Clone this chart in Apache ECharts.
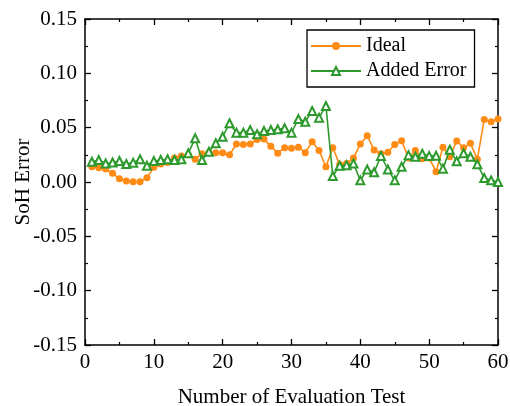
<!DOCTYPE html>
<html>
<head>
<meta charset="utf-8">
<title>SoH Error</title>
<script src="https://cdn.jsdelivr.net/npm/echarts@6/dist/echarts.min.js"></script>
<style>
  html, body { margin: 0; padding: 0; background: #fff; }
  #chart { width: 510px; height: 406px; }
</style>
</head>
<body>
<div id="chart"></div>
<script>
// evaluation test number (x)
const testNo = [1, 2, 3, 4, 5, 6, 7, 8, 9, 10, 11, 12, 13, 14, 15, 16, 17, 18, 19, 20,
  21, 22, 23, 24, 25, 26, 27, 28, 29, 30, 31, 32, 33, 34, 35, 36, 37, 38, 39, 40,
  41, 42, 43, 44, 45, 46, 47, 48, 49, 50, 51, 52, 53, 54, 55, 56, 57, 58, 59, 60];

// SoH error, ideal case
const ideal = [0.014, 0.013, 0.012, 0.008, 0.003, 0.001, 0.0003, 0.0003, 0.004, 0.0135,
  0.0165, 0.018, 0.022, 0.024, 0.025, 0.021, 0.026, 0.027, 0.027, 0.027,
  0.025, 0.035, 0.0345, 0.035, 0.039, 0.0395, 0.033, 0.0265, 0.0315, 0.031,
  0.032, 0.027, 0.037, 0.029, 0.014, 0.0315, 0.016, 0.017, 0.022, 0.035,
  0.0426, 0.0294, 0.026, 0.0273, 0.0345, 0.038, 0.022, 0.029, 0.0215, 0.022,
  0.0095, 0.032, 0.0233, 0.0377, 0.0316, 0.0356, 0.021, 0.0575, 0.0555, 0.058];

// SoH error with added error
const addedError = [0.0187, 0.0202, 0.017, 0.018, 0.0193, 0.0166, 0.0178, 0.021, 0.015, 0.0193,
  0.0202, 0.021, 0.0202, 0.0209, 0.0264, 0.0402, 0.0202, 0.0279, 0.0356, 0.0417,
  0.054, 0.0454, 0.0454, 0.0479, 0.0439, 0.0469, 0.0479, 0.0485, 0.0494, 0.0454,
  0.058, 0.0555, 0.0653, 0.0592, 0.07, 0.0055, 0.015, 0.0155, 0.017, 0.0015,
  0.0115, 0.009, 0.024, 0.0115, 0.0015, 0.014, 0.0247, 0.0233, 0.026, 0.024,
  0.0242, 0.0123, 0.0297, 0.019, 0.0264, 0.0233, 0.0163, 0.0037, 0.0015, 0.0];

const seriesNames = ['Ideal', 'Added Error'];

const FONT = "'Liberation Serif', 'Times New Roman', serif";
const ORANGE = '#FF8A14';
const GREEN = '#2E9A2E';

const chart = echarts.init(document.getElementById('chart'));

// common look of the frame axes (ticks inside on all four sides)
const frameLine = { show: true, onZero: false, lineStyle: { color: '#000', width: 1.5 } };
const frameTick = { show: true, inside: true, length: 6, lineStyle: { color: '#000', width: 1.3 } };
const frameMinor = { show: true, splitNumber: 2, length: 3, lineStyle: { color: '#000', width: 1.2 } };

const option = {
  backgroundColor: '#fff',
  animation: false,
  grid: { left: 85, right: 12, top: 19, bottom: 61, outerBoundsMode: 'none' },
  legend: {
    orient: 'vertical',
    left: 307,
    top: 30,
    padding: [6, 8, 6, 3],
    itemGap: 5,
    itemWidth: 50,
    itemHeight: 10,
    borderColor: '#000',
    borderWidth: 1.3,
    borderRadius: 0,
    textStyle: { fontFamily: FONT, fontSize: 20, color: '#000' },
    data: seriesNames
  },
  xAxis: [
    {
      type: 'value',
      min: 0, max: 60, interval: 10,
      position: 'bottom',
      name: 'Number of Evaluation Test',
      nameLocation: 'middle',
      nameGap: 42,
      nameMoveOverlap: false,
      nameTextStyle: { fontFamily: FONT, fontSize: 21, color: '#000' },
      axisLine: frameLine,
      axisTick: frameTick,
      minorTick: frameMinor,
      axisLabel: { fontFamily: FONT, fontSize: 21, color: '#000', margin: 7 },
      splitLine: { show: false }
    },
    {
      type: 'value',
      min: 0, max: 60, interval: 10,
      position: 'top',
      axisLine: frameLine,
      axisTick: frameTick,
      minorTick: frameMinor,
      axisLabel: { show: false },
      splitLine: { show: false }
    }
  ],
  yAxis: [
    {
      type: 'value',
      min: -0.15, max: 0.15, interval: 0.05,
      position: 'left',
      name: 'SoH Error',
      nameLocation: 'middle',
      nameGap: 51,
      nameMoveOverlap: false,
      nameTextStyle: { fontFamily: FONT, fontSize: 21, color: '#000' },
      axisLine: frameLine,
      axisTick: frameTick,
      minorTick: frameMinor,
      axisLabel: {
        fontFamily: FONT, fontSize: 21, color: '#000', margin: 8,
        formatter: v => (Math.abs(v) < 1e-9 ? 0 : v).toFixed(2)
      },
      splitLine: { show: false }
    },
    {
      type: 'value',
      min: -0.15, max: 0.15, interval: 0.05,
      position: 'right',
      axisLine: frameLine,
      axisTick: frameTick,
      minorTick: frameMinor,
      axisLabel: { show: false },
      splitLine: { show: false }
    }
  ],
  series: [
    {
      name: seriesNames[0],
      type: 'line',
      data: ideal.map((v, i) => [testNo[i], v]),
      symbol: 'circle',
      symbolSize: 7,
      itemStyle: { color: ORANGE },
      lineStyle: { color: ORANGE, width: 1.6 },
      z: 3
    },
    {
      name: seriesNames[1],
      type: 'line',
      data: addedError.map((v, i) => [testNo[i], v]),
      symbol: 'emptyTriangle',
      symbolSize: 8,
      itemStyle: { color: GREEN, borderWidth: 1.3 },
      lineStyle: { color: GREEN, width: 1.6 },
      z: 4
    }
  ]
};

chart.setOption(option);
</script>
</body>
</html>
